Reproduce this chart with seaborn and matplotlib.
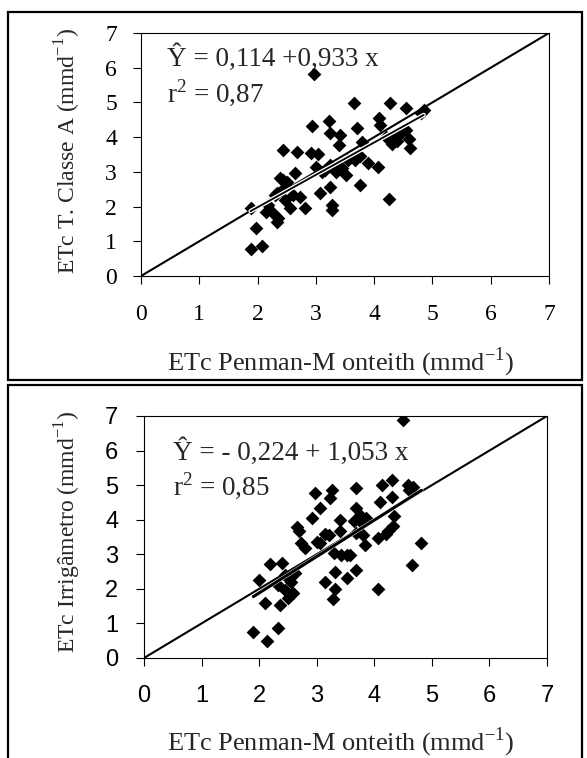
import numpy as np
import matplotlib
matplotlib.use('Agg')
from matplotlib import pyplot as plt
from matplotlib.patches import Rectangle
import matplotlib.patheffects as pe
import seaborn as sns

# ETc Penman-Monteith x ETc Tanque Classe A (mm/d)
pmClasseA = [1.88, 2.08, 1.98, 1.89, 2.15, 2.18, 2.25, 2.33, 2.35, 2.30, 2.42, 2.47, 2.56,
             2.60, 2.33, 2.38, 2.50, 2.43, 2.65, 2.72, 2.82, 2.43, 2.68, 2.91, 3.03, 2.93,
             2.96, 3.00, 3.07, 3.25, 3.27, 3.27, 3.15, 3.25, 3.35, 3.40, 3.52, 3.45, 3.24,
             3.23, 3.42, 3.39, 3.66, 3.71, 3.80, 3.68, 3.75, 3.90, 4.07, 3.75, 4.26, 4.09,
             4.10, 4.20, 4.30, 4.40, 4.45, 4.55, 4.60, 4.35, 4.61, 4.28, 4.54, 4.81, 4.85,
             3.10, 3.55]
classeA = [0.77, 0.86, 1.38, 1.95, 1.85, 2.05, 1.84, 1.55, 1.67, 2.33, 2.48, 2.19, 1.95,
           2.33, 2.40, 2.82, 2.70, 2.77, 2.96, 2.29, 1.97, 3.63, 3.57, 3.54, 3.51, 4.32,
           5.82, 3.15, 2.38, 2.55, 2.04, 1.90, 3.05, 3.20, 3.00, 3.15, 2.91, 3.10, 4.12,
           4.47, 4.06, 3.77, 4.98, 4.26, 3.86, 3.34, 3.45, 3.25, 3.15, 2.62, 2.21, 4.54,
           4.35, 4.00, 3.80, 3.90, 4.10, 4.20, 3.95, 4.05, 3.69, 4.98, 4.85, 4.69, 4.78,
           3.00, 3.35]

# ETc Penman-Monteith x ETc Irrigametro (mm/d)
pmIrrig = [1.90, 2.13, 2.33, 2.10, 2.37, 2.00, 2.19, 2.40, 2.33, 2.45, 2.56, 2.45, 2.50,
           2.59, 2.62, 2.50, 2.65, 2.70, 2.72, 2.80, 2.91, 2.97, 3.06, 3.00, 3.06, 3.22,
           3.15, 3.26, 3.23, 3.41, 3.41, 3.43, 3.30, 3.52, 3.58, 3.14, 3.32, 3.32, 3.28,
           3.52, 3.68, 3.69, 3.69, 3.75, 3.68, 3.84, 3.78, 3.85, 4.06, 4.07, 4.10, 4.13,
           4.30, 4.30, 4.23, 4.33, 4.20, 4.35, 4.50, 4.58, 4.67, 4.60, 4.65, 4.82, 3.65,
           3.80]
irrigametro = [0.75, 0.50, 0.87, 1.60, 1.52, 2.25, 2.72, 2.76, 2.11, 2.40, 2.20, 1.97, 1.74,
               1.88, 2.46, 2.30, 3.79, 3.67, 3.33, 3.18, 4.06, 4.77, 4.35, 3.36, 3.32, 3.56,
               3.60, 4.87, 4.62, 3.99, 3.67, 2.98, 3.05, 2.98, 2.98, 2.20, 2.49, 2.00, 1.72,
               2.31, 2.55, 4.92, 4.34, 4.14, 3.62, 3.27, 3.90, 4.05, 3.47, 2.00, 4.50, 5.00,
               5.15, 4.66, 3.67, 3.82, 3.60, 4.10, 6.88, 5.00, 4.95, 4.85, 2.70, 3.33, 3.95,
               3.55]

ticks = [0, 1, 2, 3, 4, 5, 6, 7]
lineOneToOne = [0, 7]
regClasseA = (0.114, 0.933)
regIrrig = (-0.224, 1.053)

sns.set_style('white')
plt.rcParams['font.family'] = ['Liberation Serif', 'DejaVu Serif']
plt.rcParams['mathtext.fontset'] = 'custom'
plt.rcParams['mathtext.rm'] = 'Liberation Serif'

W, H = 587, 758
fig = plt.figure(figsize=(W / 100, H / 100), dpi=100)

# outer frames of the two panels
fig.patches.append(Rectangle((7.5 / W, (H - 380) / H), (582 - 7.5) / W, (380 - 12) / H,
                             transform=fig.transFigure, fill=False, lw=1.6, ec='black'))
fig.patches.append(Rectangle((7.5 / W, -0.01), (582 - 7.5) / W, (H - 385) / H + 0.01,
                             transform=fig.transFigure, fill=False, lw=1.6, ec='black'))

axTop = fig.add_axes([141 / W, (H - 276) / H, 408 / W, 243 / H])
axBot = fig.add_axes([144 / W, (H - 658) / H, 403 / W, 242 / H])


def draw_panel(ax, x, y, reg, regLw, haloLw, ylabel, eq, r2, tickFont, tickSize,
               ypad, xpad, txtPos, xlab, ylab):
    sns.scatterplot(x=x, y=y, marker='D', s=49, color='black', linewidth=0, ax=ax, zorder=2)
    sns.lineplot(x=lineOneToOne, y=lineOneToOne, color='black', lw=1.5, ax=ax, zorder=3)
    xr = np.array([min(x), max(x)])
    ax.plot(xr, reg[0] + reg[1] * xr, color='black', lw=regLw, zorder=4,
            path_effects=[pe.Stroke(linewidth=haloLw, foreground='white'), pe.Normal()])
    ax.set_xlim(0, 7)
    ax.set_ylim(0, 7)
    ax.set_xticks(ticks)
    ax.set_yticks(ticks)
    for sp in ax.spines.values():
        sp.set_linewidth(0.8)
        sp.set_color('black')
    ax.tick_params(bottom=True, left=True, direction='out', length=6, width=0.8,
                   labelsize=tickSize, colors='black')
    ax.tick_params(axis='y', pad=ypad)
    ax.tick_params(axis='x', pad=xpad)
    for lb in ax.get_xticklabels() + ax.get_yticklabels():
        lb.set_family(tickFont)
    ax.set_xlabel('ETc Penman-M onteith (mmd$^{\\mathregular{-1}}$)', fontsize=19)
    ax.set_ylabel(ylabel, fontsize=17)
    ax.xaxis.set_label_coords(xlab[0], xlab[1])
    ax.xaxis.label.set_va('center')
    ax.yaxis.set_label_coords(ylab[0], ylab[1])
    ax.yaxis.label.set_va('center')
    ax.text(txtPos[0], txtPos[1], eq, fontsize=19.5, va='baseline', ha='left')
    ax.text(txtPos[0], txtPos[2], r2, fontsize=19.5, va='baseline', ha='left')


draw_panel(axTop, pmClasseA, classeA, regClasseA, 1.3, 3.2,
           'ETc T. Classe A (mmd$^{\\mathregular{-1}}$)',
           'Ŷ = 0,114 +0,933 x', 'r$^{\\mathregular{2}}$ = 0,87',
           'Liberation Serif', 17, 11.3, 14, (0.45, 6.05, 4.99), (0.49, -0.354), (-0.179, 0.514))

draw_panel(axBot, pmIrrig, irrigametro, regIrrig, 2.2, 2.8,
           'ETc Irrigâmetro (mmd$^{\\mathregular{-1}}$)',
           'Ŷ = - 0,224 + 1,053 x', 'r$^{\\mathregular{2}}$ = 0,85',
           'Liberation Sans', 17, 12.5, 13.5, (0.5, 5.73, 4.69), (0.489, -0.35), (-0.189, 0.52))

fig.savefig('out.png', dpi=100)
